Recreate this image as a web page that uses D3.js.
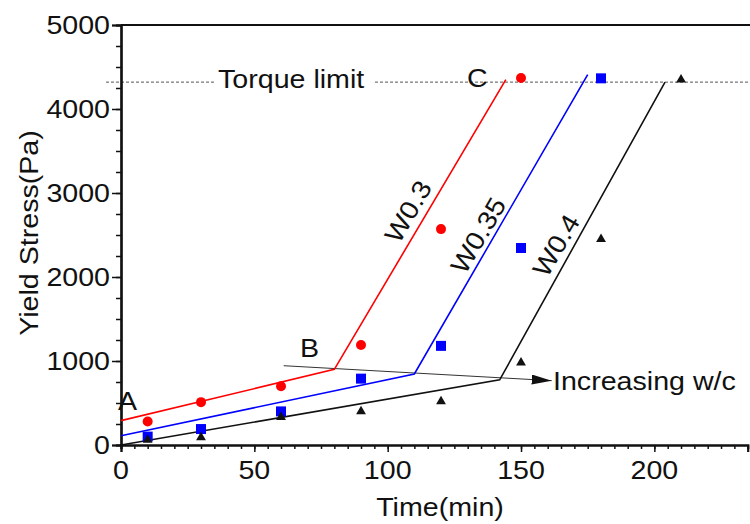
<!DOCTYPE html>
<html><head><meta charset="utf-8">
<script src="https://cdn.jsdelivr.net/npm/d3@7"></script>
<style>body{margin:0;background:#fff}svg{display:block}text{font-family:"Liberation Sans",Arial,sans-serif;fill:#111}</style>
</head><body><svg id="c" width="750" height="524"></svg>
<script>
// ---- data ----
const times = [10, 30, 60, 90, 120, 150, 180, 210];
const w03 = [280, 510, 700, 1190, 2570, 4370];
const w035 = [100, 190, 400, 790, 1180, 2345, 4365];
const w04 = [60, 90, 330, 400, 520, 980, 2450, 4350];
const fitW03 = {x: [0, 80, 144.3], y: [290, 900, 4350]};
const fitW035 = {x: [0, 110, 175], y: [110, 845, 4410]};
const fitW04 = {x: [0, 142, 204], y: [0, 775, 4320]};
const torqueLimit = 4320;
const xTicks = [0, 50, 100, 150, 200];
const yTicks = [0, 1000, 2000, 3000, 4000, 5000];
const arrowLine = {x: [61, 161.5], y: [944, 766]};

const svg = d3.select("#c");
const x = d3.scaleLinear().domain([0, 235]).range([121, 747.7]);
const y = d3.scaleLinear().domain([0, 5000]).range([445, 25]);
const SX = 1.1;

function txt(px, py, s, anchor, rot, size) {
  svg.append("text").attr("transform", `translate(${px},${py}) rotate(${rot||0}) scale(${SX},1)`)
    .attr("text-anchor", anchor || "start").style("font-size", (size||26) + "px").text(s);
}

// top border
svg.append("line").attr("x1", x(0)).attr("x2", 750).attr("y1", y(5000)).attr("y2", y(5000))
  .attr("stroke", "#111").attr("stroke-width", 2.2);

// torque limit dashed line
const dash = {stroke: "#555", "stroke-width": 1, "stroke-dasharray": "3,2"};
function dline(x1, x2, yy) {
  const l = svg.append("line").attr("x1", x1).attr("x2", x2).attr("y1", yy).attr("y2", yy);
  Object.entries(dash).forEach(([k, v]) => l.attr(k, v));
}
dline(106, 214, y(torqueLimit));
dline(375, 748, y(torqueLimit));
txt(218, 88, "Torque limit", "start", 0, 26);

// axes
const gx = svg.append("g").attr("transform", `translate(0,${y(0)})`);
gx.call(d3.axisBottom(x).tickValues(d3.range(0, 236, 5)).tickSize(4).tickFormat(""));
gx.call(g => g.append("g").call(d3.axisBottom(x).tickValues(xTicks).tickSize(7).tickFormat("")));
gx.selectAll("path.domain").attr("stroke", "#111").attr("stroke-width", 2.2);
gx.selectAll("line").attr("stroke", "#111").attr("stroke-width", 1.5);
xTicks.forEach(t => txt(x(t), 479, d3.format("d")(t), "middle", 0, 26));

const gy = svg.append("g").attr("transform", `translate(${x(0)},0)`);
gy.call(d3.axisLeft(y).tickValues(d3.range(0, 5001, 250)).tickSize(5).tickFormat(""));
gy.call(g => g.append("g").call(d3.axisLeft(y).tickValues(yTicks).tickSize(9).tickFormat("")));
gy.selectAll("path.domain").attr("stroke", "#111").attr("stroke-width", 2.2);
gy.selectAll("line").attr("stroke", "#111").attr("stroke-width", 1.5);
yTicks.forEach(t => txt(110, y(t) + 9, d3.format("d")(t), "end", 0, 26));

txt(440, 516, "Time(min)", "middle", 0, 26);
txt(38, 233, "Yield Stress(Pa)", "middle", -90, 26);

// arrow line
svg.append("defs").append("marker").attr("id", "ah").attr("viewBox", "0 0 20 10")
  .attr("refX", 20).attr("refY", 5).attr("markerWidth", 20).attr("markerHeight", 10)
  .attr("markerUnits", "userSpaceOnUse").attr("orient", "auto")
  .append("path").attr("d", "M0,0L20,5L0,10Z").attr("fill", "#111");
svg.append("line").attr("x1", x(arrowLine.x[0])).attr("y1", y(arrowLine.y[0]))
  .attr("x2", x(arrowLine.x[1])).attr("y2", y(arrowLine.y[1]))
  .attr("stroke", "#333").attr("stroke-width", 1).attr("marker-end", "url(#ah)");
txt(553, 390, "Increasing w/c", "start", 0, 26);

// fit lines
const line = d3.line().x(d => x(d[0])).y(d => y(d[1]));
[[fitW03, "#ff0000"], [fitW035, "#0000ff"], [fitW04, "#111"]].forEach(([f, c]) => {
  svg.append("path").attr("d", line(d3.zip(f.x, f.y))).attr("fill", "none")
    .attr("stroke", c).attr("stroke-width", 1.6);
});

// markers
svg.selectAll(".r").data(w03).join("circle").attr("cx", (d, i) => x(times[i])).attr("cy", d => y(d))
  .attr("r", 5).attr("fill", "#ff0000");
svg.selectAll(".b").data(w035).join("path").attr("d", d3.symbol(d3.symbolSquare, 100))
  .attr("transform", (d, i) => `translate(${x(times[i])},${y(d)})`).attr("fill", "#0000ff");
svg.selectAll(".k").data(w04).join("path").attr("d", d3.symbol(d3.symbolTriangle, 42))
  .attr("transform", (d, i) => `translate(${x(times[i])},${y(d)})`).attr("fill", "#111");

// annotations
txt(118, 410, "A", "start", 0, 26);
txt(300, 357, "B", "start", 0, 26);
txt(467, 87, "C", "start", 0, 26);
const ang = -59.5;
[["W0.3", 107.6, 2774], ["W0.35", 133.9, 2488], ["W0.4", 163.1, 2369]].forEach(([s, tx, ty]) => {
  txt(x(tx) + 8, y(ty) + 4, s, "middle", ang, 26);
});
</script></body></html>
